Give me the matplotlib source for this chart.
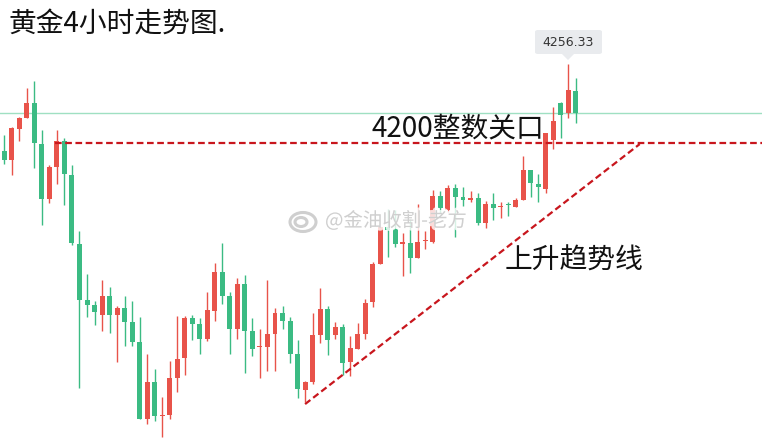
import numpy as np
import matplotlib
matplotlib.use("Agg")
import matplotlib.pyplot as plt
import matplotlib.patheffects as pe
from matplotlib.patches import FancyBboxPatch, Polygon, Ellipse

plt.rcParams['font.family'] = ['Noto Sans CJK SC', 'DejaVu Sans']

# 4-hour gold candles (open, high, low, close)
opens = [4193.9, 4187.7, 4209.9, 4217.8, 4228.3, 4198.9, 4159.7, 4182.4, 4200.9, 4176.5,
         4127.2, 4087.0, 4083.2, 4076.4, 4089.8, 4076.4, 4081.2, 4071.2, 4056.8, 4001.6,
         4028.1, 4003.7, 4004.7, 4031.0, 4045.4, 4074.1, 4069.8, 4059.0, 4079.1, 4107.1,
         4089.8, 4066.2, 4098.5, 4064.7, 4053.0, 4053.5, 4062.6, 4077.6, 4071.9, 4048.2,
         4022.6, 4028.1, 4061.9, 4080.5, 4061.9, 4067.6, 4042.5, 4051.8, 4062.6, 4085.5,
         4113.0, 4139.5, 4137.9, 4127.5, 4127.9, 4117.3, 4129.1, 4128.6, 4161.6, 4151.3,
         4167.3, 4160.9, 4159.0, 4160.2, 4142.4, 4155.9, 4153.7, 4155.9, 4153.9, 4158.7,
         4180.3, 4170.2, 4166.8, 4201.8, 4228.6, 4221.0, 4237.0]
highs = [4205.4, 4211.1, 4218.3, 4239.1, 4244.1, 4209.0, 4183.6, 4209.0, 4203.0, 4183.6,
         4136.3, 4105.6, 4086.0, 4101.3, 4096.1, 4082.7, 4089.8, 4086.3, 4074.8, 4048.2,
         4037.5, 4017.4, 4043.2, 4075.5, 4075.5, 4076.2, 4074.1, 4092.7, 4113.5, 4127.9,
         4092.7, 4102.8, 4104.9, 4074.1, 4066.2, 4101.3, 4081.2, 4082.7, 4074.8, 4058.3,
         4028.9, 4077.6, 4095.6, 4082.7, 4071.2, 4069.8, 4061.1, 4070.5, 4087.7, 4114.2,
         4140.1, 4152.1, 4151.3, 4135.1, 4145.1, 4155.9, 4136.5, 4165.9, 4165.0, 4169.7,
         4170.2, 4167.9, 4165.0, 4163.8, 4158.2, 4164.0, 4157.5, 4157.5, 4160.0, 4190.3,
         4180.5, 4177.4, 4207.2, 4225.3, 4229.3, 4256.33, 4246.5]
lows = [4184.8, 4176.7, 4201.3, 4217.5, 4181.9, 4141.0, 4156.8, 4170.4, 4155.4, 4126.7,
        4024.0, 4075.0, 4069.0, 4064.9, 4063.5, 4042.7, 4054.2, 4054.2, 4001.3, 3998.2,
        4000.4, 3988.9, 4001.8, 4021.0, 4033.4, 4058.3, 4048.2, 4057.6, 4071.9, 4084.1,
        4048.2, 4059.0, 4034.6, 4046.8, 4031.2, 4036.2, 4036.2, 4066.2, 4042.0, 4016.9,
        4014.0, 4026.9, 4056.3, 4047.5, 4059.2, 4033.2, 4032.7, 4051.5, 4059.0, 4082.0,
        4112.6, 4118.1, 4125.2, 4104.4, 4106.1, 4117.0, 4123.4, 4128.1, 4149.2, 4150.1,
        4132.4, 4154.4, 4157.3, 4140.6, 4138.9, 4144.4, 4145.6, 4147.3, 4153.5, 4158.5,
        4161.1, 4157.5, 4164.0, 4195.6, 4203.4, 4217.4, 4213.8]
closes = [4187.7, 4210.4, 4217.6, 4228.3, 4199.9, 4159.7, 4182.4, 4200.9, 4177.6, 4128.1,
          4087.2, 4083.6, 4078.6, 4089.8, 4076.4, 4081.2, 4071.4, 4057.1, 4001.6, 4028.1,
          4003.7, 4004.2, 4031.0, 4044.6, 4074.1, 4069.8, 4059.0, 4079.8, 4107.1, 4089.8,
          4066.2, 4098.5, 4064.7, 4051.8, 4053.5, 4062.6, 4077.6, 4072.1, 4048.2, 4023.3,
          4028.1, 4061.9, 4080.5, 4058.3, 4067.6, 4041.8, 4052.5, 4062.6, 4084.8, 4112.8,
          4139.1, 4137.2, 4127.4, 4127.9, 4117.3, 4128.6, 4129.7, 4161.6, 4153.2, 4167.3,
          4161.1, 4159.0, 4160.2, 4142.4, 4155.9, 4153.2, 4154.2, 4154.9, 4158.7, 4180.3,
          4170.7, 4167.9, 4207.0, 4215.4, 4219.7, 4237.7, 4221.0]

key_level = 4200
key_start = 6.7          # candle index where the 4200 line begins
trend_x = [40.0, 84.5]   # trend line ends (candle index)
trend_y = [4012.3, 4198.9]

up_color = '#e8534a'
down_color = '#3bbb83'

o = np.array(opens)
h = np.array(highs)
l = np.array(lows)
c = np.array(closes)
x = np.arange(len(o))
colors = np.where(c >= o, up_color, down_color)

fig = plt.figure(figsize=(7.62, 4.41), dpi=100)
ax = fig.add_axes([0, 0, 1, 1])
ax.set_xlim(-0.572, 100.76)
ax.set_ylim(3985.8, 4302.3)
ax.axis('off')

# last price line
ax.axhline(c[-1], color='#9fe0c2', lw=1.0, zorder=1)

# candles
ax.vlines(x, l, h, colors=colors, lw=1.0, zorder=2)
body = np.maximum(np.abs(c - o), 0.8)
ax.bar(x, body, bottom=np.minimum(o, c), width=0.66, color=colors, zorder=3)

# 4200 key level and trend line
ax.plot([key_start, 100.76], [key_level, key_level], color='#c8161d', lw=1.6,
        dashes=(3, 1.6), zorder=4)
ax.plot(trend_x, trend_y, color='#c8161d', lw=1.6, dashes=(3, 1.6), zorder=4)

# price tooltip at the high
hi = int(np.argmax(h))
box = FancyBboxPatch((535 / 762, 1 - 54 / 441), 67 / 762, 24 / 441,
                     boxstyle='round,pad=0,rounding_size=0.004',
                     transform=fig.transFigure, fc='#e9ebee', ec='none')
fig.patches.append(box)
tri = Polygon([(561 / 762, 1 - 53 / 441), (575 / 762, 1 - 53 / 441), (568 / 762, 1 - 60 / 441)],
              closed=True, transform=fig.transFigure, fc='#e9ebee', ec='none')
fig.patches.append(tri)
fig.text(568.5 / 762, 1 - 42 / 441, '%.2f' % h[hi], ha='center', va='center',
         fontsize=9, color='#333333', family='DejaVu Sans')

# labels
fig.text(8 / 762, 1 - 25 / 441, '黄金4小时走势图.', ha='left', va='center',
         fontsize=20, color='#111111')
fig.text(372 / 762, 1 - 128 / 441, '4200整数关口', ha='left', va='center',
         fontsize=20, color='#111111')
fig.text(505 / 762, 1 - 261 / 441, '上升趋势线', ha='left', va='center',
         fontsize=20, color='#111111')

# watermark
halo = [pe.withStroke(linewidth=4, foreground='white', alpha=0.8)]
fig.text(325 / 762, 1 - 221 / 441, '@金油收割-老方', ha='left', va='center',
         fontsize=14, color='#cfcfcf', path_effects=halo, zorder=10)
for w, hh, dx in [(26, 19, 0), (12, 9, -2)]:
    e = Ellipse((303 / 762 + dx / 762, 1 - 222 / 441), w / 762, hh / 441,
                transform=fig.transFigure, fc='none', ec='#cfcfcf', lw=2.2, zorder=10)
    fig.patches.append(e)

fig.savefig('out.png', dpi=100)
